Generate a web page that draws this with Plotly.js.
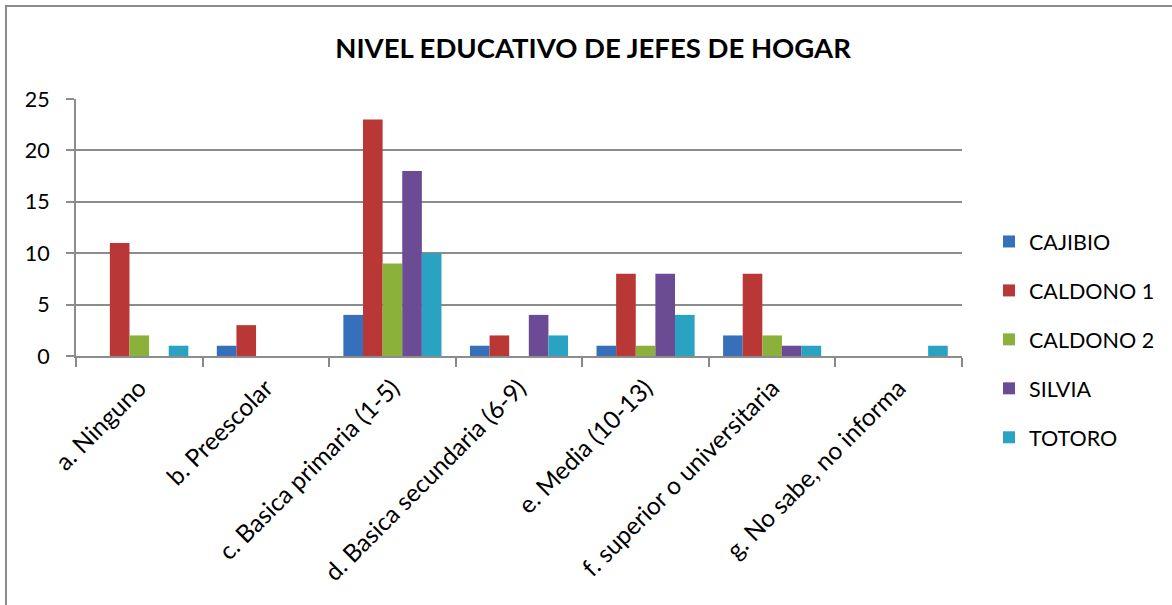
<!DOCTYPE html>
<html>
<head>
<meta charset="utf-8">
<script src="https://cdn.plot.ly/plotly-3.0.1.min.js"></script>
<style>html,body{margin:0;padding:0;background:#fff;}#chart{width:1172px;height:605px;}</style>
</head>
<body>
<div id="chart"></div>
<script>
const categories = ["a. Ninguno", "b. Preescolar", "c. Basica primaria (1-5)", "d. Basica secundaria (6-9)", "e. Media (10-13)", "f. superior o universitaria", "g. No sabe, no informa"];
const seriesNames = ["CAJIBIO", "CALDONO 1", "CALDONO 2", "SILVIA", "TOTORO"];
const cajibio   = [0, 1, 4, 1, 1, 2, 0];
const caldono1  = [11, 3, 23, 2, 8, 8, 0];
const caldono2  = [2, 0, 9, 0, 1, 2, 0];
const silvia    = [0, 0, 18, 4, 8, 1, 0];
const totoro    = [1, 0, 10, 2, 4, 1, 1];
const yTicks = [0, 5, 10, 15, 20, 25];

const seriesValues = [cajibio, caldono1, caldono2, silvia, totoro];
const colors = ["#3670bb", "#b93734", "#8bb13b", "#6a4b94", "#2aa2c2"];
const FONT = "Lato, Carlito, Calibri, sans-serif";

const traces = seriesNames.map((n, i) => ({
  type: "bar", name: n, x: categories, y: seriesValues[i],
  marker: {color: colors[i], line: {width: 0}},
  legendgroup: "g" + i
}));

const L = 76, R = 962, T = 99, B = 356, W = 1172, H = 605;
const pw = R - L, ph = B - T;

const layout = {
  width: W, height: H,
  margin: {l: L, r: W - R, t: T, b: H - B, pad: 0},
  paper_bgcolor: "#ffffff", plot_bgcolor: "#ffffff",
  font: {family: FONT, color: "#000", size: 19},
  title: {text: "<b>NIVEL EDUCATIVO DE JEFES DE HOGAR</b>", font: {family: FONT, size: 27.5, color: "#000"},
          x: 0.506, xanchor: "center", y: 1 - 48 / H, yanchor: "middle"},
  barmode: "group", bargap: 0.225, bargroupgap: 0,
  showlegend: true,
  legend: {x: (989 - L) / pw, xanchor: "left", y: (B - 221) / ph, yanchor: "top",
           font: {family: FONT, size: 21.5, color: "#000"}, tracegroupgap: 18,
           itemwidth: 30, bgcolor: "rgba(0,0,0,0)"},
  xaxis: {type: "category", tickangle: -45, tickson: "boundaries", ticks: "outside", ticklen: 9,
          tickcolor: "#888", tickwidth: 2, showline: true, linecolor: "#8c8c8c", linewidth: 2,
          ticklabelstandoff: 6,
          showgrid: false, tickfont: {family: FONT, size: 24.5, color: "#000"}, automargin: false},
  yaxis: {range: [0, 25], tickvals: yTicks, ticks: "outside", ticklen: 8, tickcolor: "#8c8c8c", tickwidth: 2,
          ticklabelstandoff: 12,
          showline: true, linecolor: "#8c8c8c", linewidth: 2, showgrid: true, gridcolor: "#8c8c8c", gridwidth: 2,
          zeroline: false, tickfont: {family: FONT, size: 21.5, color: "#000"}, automargin: false},
  shapes: [{type: "rect", xref: "paper", yref: "paper",
            x0: (6 - L) / pw, x1: (W + 20 - L) / pw, y0: (B - (H + 20)) / ph, y1: (B - 6) / ph,
            line: {color: "#8c8c8c", width: 2}, fillcolor: "rgba(0,0,0,0)", layer: "below"}]
};

Plotly.newPlot("chart", traces, layout, {displayModeBar: false, staticPlot: true});
</script>
</body>
</html>
